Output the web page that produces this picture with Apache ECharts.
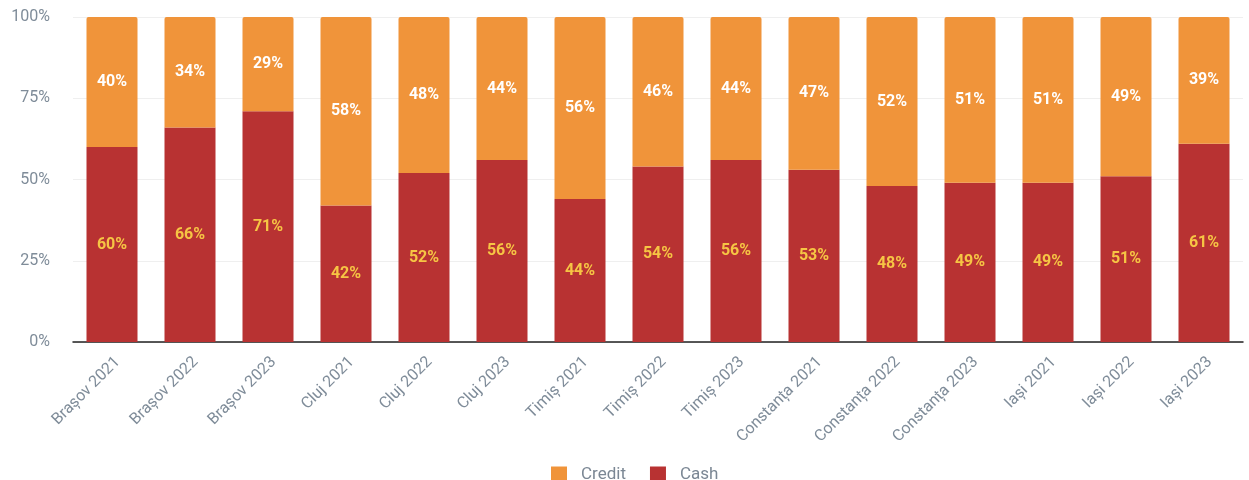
<!DOCTYPE html>
<html><head><meta charset="utf-8">
<script src="https://cdn.jsdelivr.net/npm/echarts@6/dist/echarts.min.js"></script>
<style>html,body{margin:0;padding:0;background:#fff}#c{width:1249px;height:480px}</style>
</head><body><div id="c"></div>
<script>
const categories = ["Brașov 2021","Brașov 2022","Brașov 2023","Cluj 2021","Cluj 2022","Cluj 2023","Timiș 2021","Timiș 2022","Timiș 2023","Constanța 2021","Constanța 2022","Constanța 2023","Iași 2021","Iași 2022","Iași 2023"];
const cashValues = [60,66,71,42,52,56,44,54,56,53,48,49,49,51,61];
const creditValues = [40,34,29,58,48,44,56,46,44,47,52,51,51,49,39];
const yTicks = [0,25,50,75,100];

const chart = echarts.init(document.getElementById('c'));
chart.setOption({
  animation:false,
  textStyle:{fontFamily:'Roboto'},
  grid:{left:73,right:6,top:17,bottom:138},
  legend:{top:461,left:546,itemWidth:16,itemHeight:16,itemGap:24,data:['Credit','Cash'],
    textStyle:{color:'#7b8794',fontSize:17,fontFamily:'Roboto',padding:[0,0,0,9]},icon:'rect'},
  xAxis:{type:'category',data:categories,
    axisLine:{lineStyle:{color:'#222',width:1.5}},axisTick:{show:false},
    axisLabel:{rotate:45,color:'#7f8c99',fontSize:16,margin:12,interval:0,verticalAlign:'top',fontFamily:'Roboto'}},
  yAxis:{type:'value',min:yTicks[0],max:yTicks[yTicks.length-1],interval:25,
    axisLine:{show:false},axisTick:{show:false},
    axisLabel:{formatter:'{value}%',color:'#7f8c99',fontSize:16,margin:23,fontFamily:'Roboto'},
    splitLine:{lineStyle:{color:'#efefef'}}},
  series:[
    {name:'Cash',type:'bar',stack:'s',data:cashValues,barWidth:51,
     itemStyle:{color:'#b83232'},
     label:{show:true,position:'inside',formatter:'{c}%',color:'#f6c544',fontWeight:'bold',fontSize:16,fontFamily:'Roboto'}},
    {name:'Credit',type:'bar',stack:'s',data:creditValues,barWidth:51,
     itemStyle:{color:'#f0943a',borderRadius:[2,2,0,0]},
     label:{show:true,position:'inside',formatter:'{c}%',color:'#ffffff',fontWeight:'bold',fontSize:16,fontFamily:'Roboto'}}
  ]
});
</script></body></html>
